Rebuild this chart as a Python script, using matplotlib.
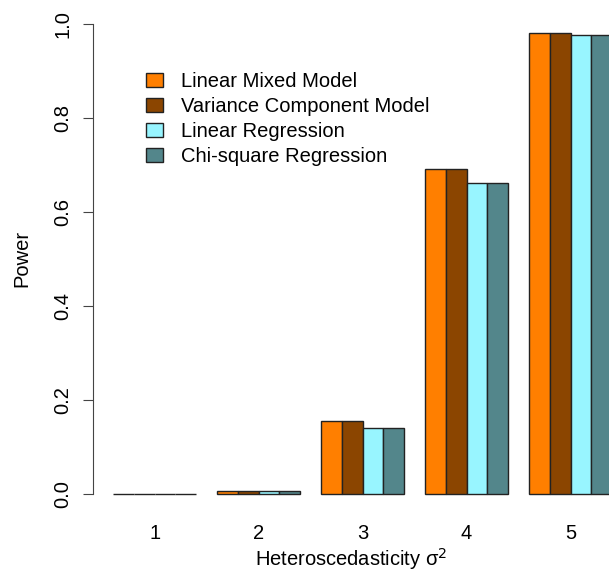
import matplotlib
matplotlib.use("Agg")
import matplotlib.pyplot as plt
from matplotlib.patches import Patch
import numpy as np

plt.rcParams['font.family'] = ['Liberation Sans', 'DejaVu Sans']

# heteroscedasticity levels and power of each method
levels = ["1", "2", "3", "4", "5"]
methods = ["Linear Mixed Model", "Variance Component Model",
           "Linear Regression", "Chi-square Regression"]
lmm = [0.0, 0.007, 0.156, 0.690, 0.981]
vcm = [0.0, 0.007, 0.156, 0.690, 0.981]
lr = [0.0, 0.006, 0.141, 0.662, 0.975]
chisq = [0.0, 0.006, 0.141, 0.662, 0.975]
colors = ["#FF7F00", "#8B4500", "#98F5FF", "#53868B"]

W, H = 609, 572
fs = 14.5
fig = plt.figure(figsize=(W / 100, H / 100), dpi=100)
ax = fig.add_axes([93 / W, 59.2 / H, 516 / W, 508 / H])

series = [lmm, vcm, lr, chisq]
n = len(series)
for g in range(len(levels)):
    start = g * (n + 1) + 1
    for k, vals in enumerate(series):
        ax.bar(start + k, vals[g], width=1, align='edge', color=colors[k],
               edgecolor='#222222', linewidth=1.0)

centers = [g * (n + 1) + 1 + n / 2 for g in range(len(levels))]
ax.set_xlim(0.04, 0.04 + 516 / 20.8)
ax.set_ylim(-0.04, 1.04)

for s in ['top', 'right', 'bottom']:
    ax.spines[s].set_visible(False)
ax.spines['left'].set_bounds(0, 1)
ax.spines['left'].set_color('#444444')
ax.set_yticks(np.arange(0, 1.01, 0.2))
ax.set_yticklabels(["0.0", "0.2", "0.4", "0.6", "0.8", "1.0"], rotation=90,
                   va='center', fontsize=fs)
ax.tick_params(axis='y', length=7, color='#444444', pad=8)
ax.set_xticks(centers)
ax.set_xticklabels(levels, fontsize=fs)
ax.tick_params(axis='x', length=0, pad=8)

ax.set_xlabel("Heteroscedasticity \u03c3$^2$", fontsize=fs, labelpad=2)
ax.set_ylabel("Power", fontsize=fs, labelpad=16)

handles = [Patch(facecolor=c, edgecolor='#222222', linewidth=1.0) for c in colors]
ax.legend(handles, methods, loc='upper left', frameon=False, fontsize=fs,
          bbox_to_anchor=(146 / W, 1 - 72 / H), bbox_transform=fig.transFigure,
          handlelength=0.85, handleheight=0.7, handletextpad=0.9,
          labelspacing=0.3, borderaxespad=0, borderpad=0)

fig.savefig("out.png", dpi=100)
